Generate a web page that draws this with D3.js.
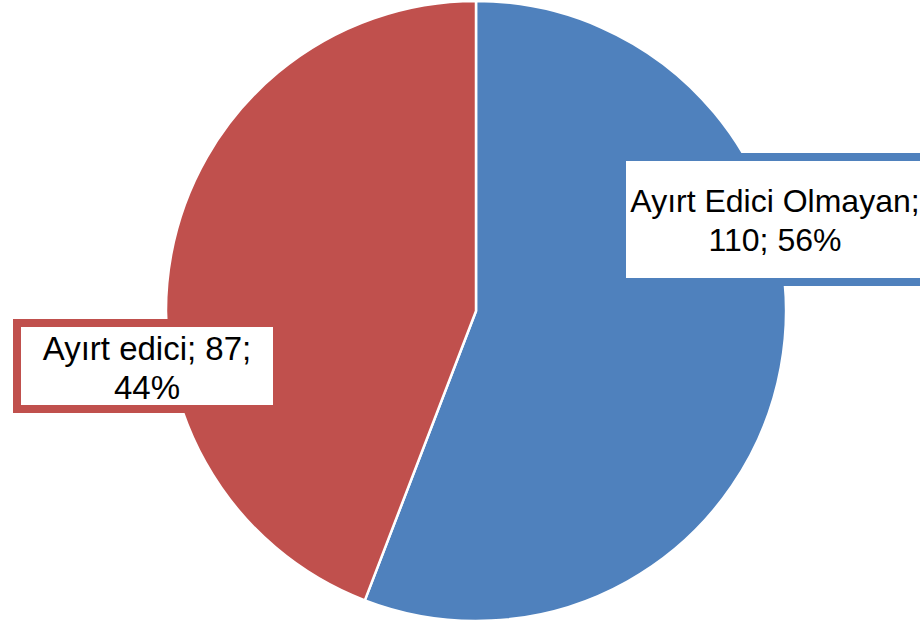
<!DOCTYPE html>
<html>
<head>
<meta charset="utf-8">
<script src="https://cdn.jsdelivr.net/npm/d3@7"></script>
<style>
  html, body { margin: 0; padding: 0; background: #ffffff; }
  svg { display: block; }
</style>
</head>
<body>
<svg id="chart" width="920" height="624"></svg>
<script>
// ---- data ----
const categories = ["Ayırt Edici Olmayan", "Ayırt edici"];
const values = [110, 87];
const colors = ["#4F81BD", "#C0504D"];
// number of "; "-separated parts of each label that sit on its first line
const labelBreakAfter = [1, 2];

// ---- layout ----
const W = 920, H = 624;
const cx = 476, cy = 311, R = 310;
const labelBoxes = [
  { x: 622, y: 157, w: 312, h: 125, tx: 775, ty: 212, fs: 32 },
  { x: 17,  y: 323, w: 260, h: 86,  tx: 147, ty: 360, fs: 33 }
];
const lineGap = 39;

const svg = d3.select("#chart");
const total = d3.sum(values);
const data = categories.map((c, i) => ({ name: c, value: values[i], color: colors[i], i }));

const pie = d3.pie().sort(null).value(d => d.value);
const arc = d3.arc().innerRadius(0).outerRadius(R);

const g = svg.append("g").attr("transform", `translate(${cx},${cy})`);
g.selectAll("path")
  .data(pie(data))
  .join("path")
  .attr("d", arc)
  .attr("fill", d => d.data.color)
  .attr("stroke", "#ffffff")
  .attr("stroke-width", 2.5)
  .attr("stroke-linejoin", "round");

// ---- labels ----
data.forEach((d, i) => {
  const pct = Math.round(d.value / total * 100);
  const parts = [d.name, String(d.value), pct + "%"];
  const k = labelBreakAfter[i];
  const line1 = parts.slice(0, k).join("; ") + ";";
  const line2 = parts.slice(k).join("; ");
  const b = labelBoxes[i];
  const lg = svg.append("g");
  lg.append("rect")
    .attr("x", b.x).attr("y", b.y)
    .attr("width", b.w).attr("height", b.h)
    .attr("fill", "#ffffff")
    .attr("stroke", d.color)
    .attr("stroke-width", 8);
  const t = lg.append("text")
    .attr("text-anchor", "middle")
    .attr("font-family", "'Liberation Sans', Arial, sans-serif")
    .attr("font-size", b.fs)
    .attr("fill", "#000000");
  t.append("tspan").attr("x", b.tx).attr("y", b.ty).text(line1);
  t.append("tspan").attr("x", b.tx).attr("y", b.ty + lineGap).text(line2);
});
</script>
</body>
</html>
